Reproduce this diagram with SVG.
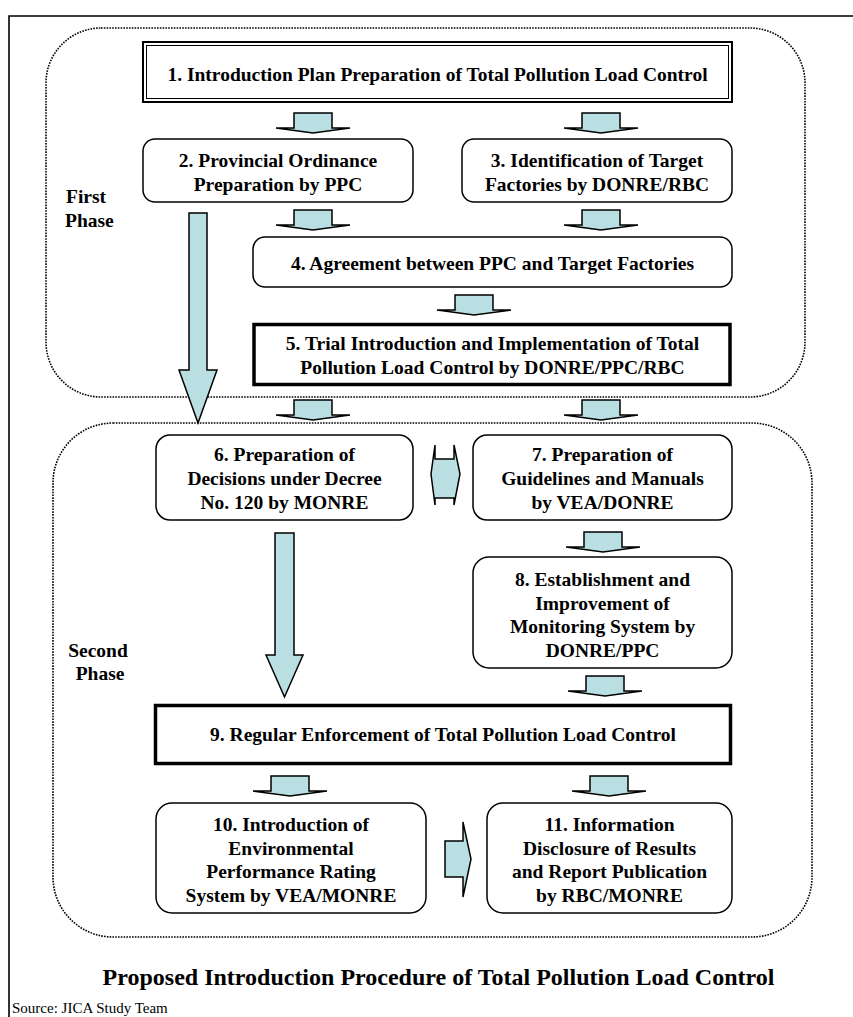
<svg xmlns="http://www.w3.org/2000/svg" xmlns:xlink="http://www.w3.org/1999/xlink" width="853" height="1017" viewBox="0 0 853 1017">
  <style>
    .frame { fill: none; stroke: #000; stroke-width: 1.6; }
    .phase { fill: none; stroke: #000; stroke-width: 1.6; stroke-dasharray: 1.6 1.2; }
    .box { fill: #fff; stroke: #000; stroke-width: 1.5; }
    .bold-box { fill: #fff; stroke: #000; stroke-width: 3.5; }
    .arrow { fill: #BADFE2; stroke: #000; stroke-width: 1.5; stroke-linejoin: miter; }
    .t { font-family: "Liberation Serif", "Times New Roman", serif; font-weight: bold; font-size: 19.5px; fill: #000; text-anchor: middle; }
    .lbl { font-family: "Liberation Serif", "Times New Roman", serif; font-weight: bold; font-size: 19.5px; fill: #000; }
    .title { font-family: "Liberation Serif", "Times New Roman", serif; font-weight: bold; font-size: 24px; fill: #000; text-anchor: middle; }
    .src { font-family: "Liberation Serif", "Times New Roman", serif; font-size: 15px; fill: #000; }
  </style>
  <defs>
    <!-- small block arrow pointing down, origin at top centre -->
    <path id="down" d="M-19,0 H19 V15 H37 L0,20 L-37,15 H-19 Z"/>
  </defs>

  <rect width="853" height="1017" fill="#fff"/>

  <!-- outer frame -->
  <path class="frame" d="M9,1017 V16 H853"/>

  <!-- phase regions -->
  <g id="first-phase">
    <rect class="phase" x="46" y="28" width="759" height="369" rx="55" ry="55"/>
    <text class="lbl" x="66" y="203">First</text>
    <text class="lbl" x="65" y="227">Phase</text>
  </g>
  <g id="second-phase">
    <rect class="phase" x="53" y="423" width="759" height="514" rx="60" ry="60"/>
    <text class="t" x="98" y="657">Second</text>
    <text class="t" x="100" y="680">Phase</text>
  </g>

  <!-- connectors -->
  <g id="connectors">
    <use xlink:href="#down" href="#down" class="arrow" x="313" y="113"/>
    <use xlink:href="#down" href="#down" class="arrow" x="601" y="113"/>
    <use xlink:href="#down" href="#down" class="arrow" x="313" y="210"/>
    <use xlink:href="#down" href="#down" class="arrow" x="601" y="210"/>
    <use xlink:href="#down" href="#down" class="arrow" x="474" y="295"/>
    <use xlink:href="#down" href="#down" class="arrow" x="313" y="400"/>
    <use xlink:href="#down" href="#down" class="arrow" x="601" y="400"/>
    <use xlink:href="#down" href="#down" class="arrow" x="603" y="532"/>
    <use xlink:href="#down" href="#down" class="arrow" x="605" y="676"/>
    <use xlink:href="#down" href="#down" class="arrow" x="290" y="776"/>
    <use xlink:href="#down" href="#down" class="arrow" x="609" y="776"/>
    <!-- long arrow 2 -> 6 -->
    <path class="arrow" d="M189,213 H207 V370 H217 L198,423 L179,370 H189 Z"/>
    <!-- long arrow 6 -> 9 -->
    <path class="arrow" d="M275,533 H294 V655 H303 L284.5,697 L266,655 H275 Z"/>
    <!-- two-way arrow 6 <-> 7 -->
    <path class="arrow" d="M435,445 V459 H454 V445 L460,474 L454,505 V498 H435 V505 L431,474 Z"/>
    <!-- arrow 10 -> 11 -->
    <path class="arrow" d="M445,841 H463 V822 L471,859 L463,897 V877 H445 Z"/>
  </g>

  <g id="n1">
    <rect x="143" y="42" width="589" height="60" fill="#fff" stroke="#000" stroke-width="2"/>
    <rect x="146.5" y="45.5" width="582" height="53" fill="none" stroke="#000" stroke-width="1"/>
    <text class="t" x="437.5" y="81">1. Introduction Plan Preparation of Total Pollution Load Control</text>
  </g>
  <g id="n2">
    <rect class="box" x="143" y="139" width="270" height="63" rx="12"/>
    <text class="t" x="278" y="167">2. Provincial Ordinance</text>
    <text class="t" x="278" y="191">Preparation by PPC</text>
  </g>
  <g id="n3">
    <rect class="box" x="462" y="139" width="270" height="63" rx="12"/>
    <text class="t" x="597" y="167">3. Identification of Target</text>
    <text class="t" x="597" y="191">Factories by DONRE/RBC</text>
  </g>
  <g id="n4">
    <rect class="box" x="253" y="237" width="479" height="50" rx="12"/>
    <text class="t" x="492.5" y="270">4. Agreement between PPC and Target Factories</text>
  </g>
  <g id="n5">
    <rect class="bold-box" x="254" y="324.5" width="476" height="60"/>
    <text class="t" x="492.5" y="350">5. Trial Introduction and Implementation of Total</text>
    <text class="t" x="492.5" y="374">Pollution Load Control by DONRE/PPC/RBC</text>
  </g>
  <g id="n6">
    <rect class="box" x="156" y="435" width="257" height="85" rx="14"/>
    <text class="t" x="284.5" y="461">6. Preparation of</text>
    <text class="t" x="284.5" y="485">Decisions under Decree</text>
    <text class="t" x="284.5" y="509">No. 120  by MONRE</text>
  </g>
  <g id="n7">
    <rect class="box" x="473" y="435" width="259" height="85" rx="14"/>
    <text class="t" x="602.5" y="461">7. Preparation of</text>
    <text class="t" x="602.5" y="485">Guidelines and Manuals</text>
    <text class="t" x="602.5" y="509">by VEA/DONRE</text>
  </g>
  <g id="n8">
    <rect class="box" x="473" y="557" width="259" height="111" rx="16"/>
    <text class="t" x="602.5" y="586">8. Establishment and</text>
    <text class="t" x="602.5" y="609.5">Improvement  of</text>
    <text class="t" x="602.5" y="633">Monitoring System by</text>
    <text class="t" x="602.5" y="656.5">DONRE/PPC</text>
  </g>
  <g id="n9">
    <rect class="bold-box" x="155.5" y="705.5" width="575" height="58"/>
    <text class="t" x="443" y="741">9. Regular Enforcement of Total Pollution Load Control</text>
  </g>
  <g id="n10">
    <rect class="box" x="156" y="803" width="270" height="110" rx="16"/>
    <text class="t" x="291" y="831">10. Introduction of</text>
    <text class="t" x="291" y="854.5">Environmental</text>
    <text class="t" x="291" y="878">Performance Rating</text>
    <text class="t" x="291" y="901.5">System  by VEA/MONRE</text>
  </g>
  <g id="n11">
    <rect class="box" x="487" y="803" width="245" height="110" rx="16"/>
    <text class="t" x="609.5" y="831">11. Information</text>
    <text class="t" x="609.5" y="854.5">Disclosure of Results</text>
    <text class="t" x="609.5" y="878">and Report Publication</text>
    <text class="t" x="609.5" y="901.5">by RBC/MONRE</text>
  </g>

  <text class="title" x="438.5" y="985">Proposed Introduction Procedure of Total Pollution Load Control</text>
  <text class="src" x="12" y="1013">Source: JICA Study Team</text>
</svg>
